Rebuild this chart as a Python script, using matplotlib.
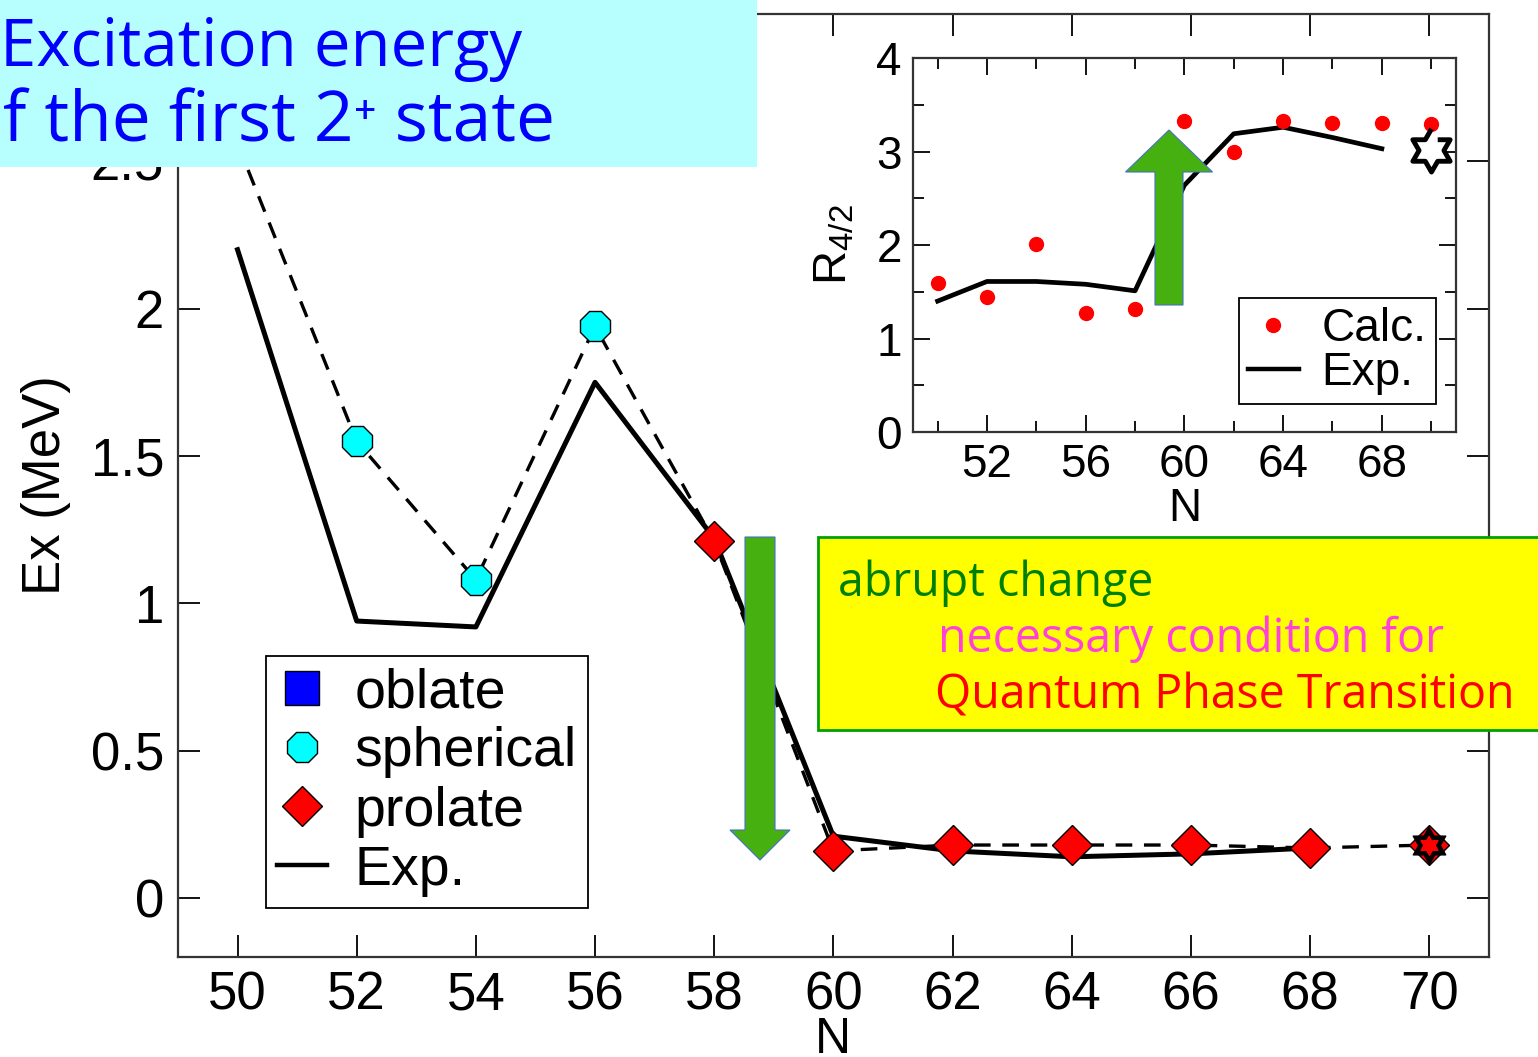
import numpy as np
import matplotlib
matplotlib.use("Agg")
import matplotlib.pyplot as plt
from matplotlib.lines import Line2D
from matplotlib.patches import Rectangle, FancyArrow

plt.rcParams["font.family"] = ["Liberation Sans", "DejaVu Sans"]
plt.rcParams["mathtext.fontset"] = "custom"
plt.rcParams["mathtext.rm"] = "Liberation Sans"
plt.rcParams["mathtext.it"] = "Liberation Sans:italic"

# main panel: Ex of first 2+ state
sph_N = [50, 52, 54, 56]
sph_E = [2.56, 1.55, 1.08, 1.94]
pro_N = [58, 60, 62, 64, 66, 68, 70]
pro_E = [1.21, 0.16, 0.18, 0.18, 0.18, 0.17, 0.18]
exp_N = [50, 52, 54, 56, 58, 60, 62, 64, 66, 68]
exp_E = [2.20, 0.94, 0.92, 1.75, 1.22, 0.21, 0.16, 0.14, 0.15, 0.17]
star_N = [70]
star_E = [0.18]

# inset: R4/2
r_calc_N = [50, 52, 54, 56, 58, 60, 62, 64, 66, 68, 70]
r_calc = [1.59, 1.44, 2.01, 1.27, 1.32, 3.33, 2.99, 3.33, 3.31, 3.31, 3.29]
r_exp_N = [50, 52, 54, 56, 58, 60, 62, 64, 66, 68]
r_exp = [1.40, 1.61, 1.61, 1.58, 1.51, 2.64, 3.19, 3.26, 3.15, 3.03]
r_star_N = [70]
r_star = [3.02]

calc_N = sph_N + pro_N
calc_E = sph_E + pro_E

# hexagram marker
ang_out = np.deg2rad(90 + 60 * np.arange(6))
ang_in = ang_out + np.deg2rad(30)
hexa = []
for a, b in zip(ang_out, ang_in):
    hexa.append((np.cos(a), np.sin(a)))
    hexa.append((np.cos(b) / np.sqrt(3), np.sin(b) / np.sqrt(3)))

fig = plt.figure(figsize=(15.38, 10.57), dpi=100)
ax = fig.add_axes([0.1157, 0.0946, 0.968 - 0.1157, 0.9868 - 0.0946])

ax.plot(calc_N, calc_E, color="black", lw=2.4, linestyle=(0, (5, 3.5)), zorder=2)
ax.plot(exp_N, exp_E, color="black", lw=3.6, zorder=3)
ax.plot(sph_N, sph_E, linestyle="none", marker="8", ms=24, mfc="#00ffff",
        mec="black", mew=1, zorder=4)
ax.plot(pro_N, pro_E, linestyle="none", marker="D", ms=20, mfc="#ff0000",
        mec="black", mew=1, zorder=4)
ax.plot(star_N, star_E, linestyle="none", marker=hexa, ms=27, mfc="black",
        mec="black", zorder=5)
ax.plot(star_N, star_E, linestyle="none", marker=hexa, ms=14, mfc="#ff0000",
        mec="#ff0000", zorder=6)

ax.set_xlim(49, 71)
ax.set_ylim(-0.2, 3.0)
ax.set_xticks(range(50, 71, 2))
ax.set_yticks([0, 0.5, 1, 1.5, 2, 2.5])
ax.set_yticklabels(["0", "0.5", "1", "1.5", "2", "2.5"])
ax.tick_params(direction="in", length=16, width=1.3, labelsize=38,
               top=True, right=True, pad=10)
for s in ax.spines.values():
    s.set_linewidth(1.6)
    s.set_color("#333333")
ax.set_xlabel("N", fontsize=36, labelpad=-3)
ax.set_ylabel("Ex (MeV)", fontsize=38, labelpad=14)

handles = [
    Line2D([], [], linestyle="none", marker="s", ms=24, mfc="#0000ff", mec="black", mew=1),
    Line2D([], [], linestyle="none", marker="8", ms=24, mfc="#00ffff", mec="black", mew=1),
    Line2D([], [], linestyle="none", marker="D", ms=20, mfc="#ff0000", mec="black", mew=1),
    Line2D([], [], color="black", lw=3.2),
]
leg = ax.legend(handles, ["oblate", "spherical", "prolate", "Exp."],
                loc="lower left", bbox_to_anchor=(0.067, 0.052), borderaxespad=0,
                fontsize=40, fancybox=False, edgecolor="black", framealpha=1,
                handlelength=0.9, handletextpad=0.5, labelspacing=0.13,
                borderpad=0.2)
leg.get_frame().set_linewidth(1.3)

# inset
ins = fig.add_axes([0.5936, 0.5913, 0.353, 0.3538], zorder=2)
ins.plot(r_exp_N, r_exp, color="black", lw=3.4, zorder=2)
ins.plot(r_calc_N, r_calc, linestyle="none", marker="o", ms=10, color="#ff0000", zorder=3)
ins.plot(r_star_N, r_star, linestyle="none", marker=hexa, ms=31, mfc="white",
         mec="black", mew=3.5, zorder=4)
ins.set_xlim(49, 71)
ins.set_ylim(0, 4)
ins.set_xticks([52, 56, 60, 64, 68])
ins.set_xticks([50, 54, 58, 62, 66, 70], minor=True)
ins.set_yticks([0, 1, 2, 3, 4])
ins.set_yticks([0.5, 1.5, 2.5, 3.5], minor=True)
ins.tick_params(which="both", direction="in", top=True, right=True, width=1.3,
                labelsize=33, pad=8)
ins.tick_params(which="major", length=12)
ins.tick_params(which="minor", length=8)
for s in ins.spines.values():
    s.set_linewidth(1.6)
    s.set_color("#333333")
ins.set_xlabel("N", fontsize=33, labelpad=0)
ins.set_ylabel(r"R$_{\mathrm{4/2}}$", fontsize=34, labelpad=14)
ileg = ins.legend([Line2D([], [], linestyle="none", marker="o", ms=10, color="#ff0000"),
                   Line2D([], [], color="black", lw=3.2)],
                  ["Calc.", "Exp."], loc="lower right", bbox_to_anchor=(0.963, 0.075),
                  borderaxespad=0, fontsize=33, fancybox=False, edgecolor="black",
                  framealpha=1, handlelength=1.1, handletextpad=0.5,
                  labelspacing=0.0, borderpad=0.2)
ileg.get_frame().set_linewidth(1.3)

# overlay boxes and arrows
W, H = 1538.0, 1057.0
fig.patches.append(Rectangle((0, 1 - 167 / H), 757 / W, 167 / H, transform=fig.transFigure,
                             facecolor="#b7fefe", edgecolor="none", zorder=10))
fig.text(0.0, 1 - 66 / H, "Excitation energy", fontsize=47, color="#0000ff",
         family=["Open Sans", "DejaVu Sans"], zorder=11)
fig.text(0.002, 1 - 141 / H, "f the first 2\u207a state", fontsize=50, color="#0000ff",
         family=["Open Sans", "DejaVu Sans"], zorder=11)

fig.patches.append(Rectangle((818 / W, 1 - 730 / H), 740 / W, 193 / H, transform=fig.transFigure,
                             facecolor="#ffff00", edgecolor="#00a000", lw=2, zorder=10))
fig.text(838 / W, 1 - 596 / H, "abrupt change", fontsize=33.5, color="#008000",
         family=["Open Sans"], zorder=11)
fig.text(938 / W, 1 - 652 / H, "necessary condition for", fontsize=33.5, color="#ff40dd",
         family=["Open Sans"], zorder=11)
fig.text(935 / W, 1 - 708 / H, "Quantum Phase Transition", fontsize=33.5, color="#ff0000",
         family=["Open Sans"], zorder=11)

fig.patches.append(FancyArrow(7.60, (H - 537) / 100, 0, -(860 - 537) / 100, width=0.30,
                              head_width=0.60, head_length=0.30, length_includes_head=True,
                              transform=fig.dpi_scale_trans, facecolor="#45b00f",
                              edgecolor="#4472c4", lw=0.8, zorder=12))
fig.patches.append(FancyArrow(11.69, (H - 305) / 100, 0, (305 - 130) / 100, width=0.28,
                              head_width=0.87, head_length=0.42, length_includes_head=True,
                              transform=fig.dpi_scale_trans, facecolor="#45b00f",
                              edgecolor="#4472c4", lw=0.8, zorder=12))

plt.savefig("out.png", dpi=100)
